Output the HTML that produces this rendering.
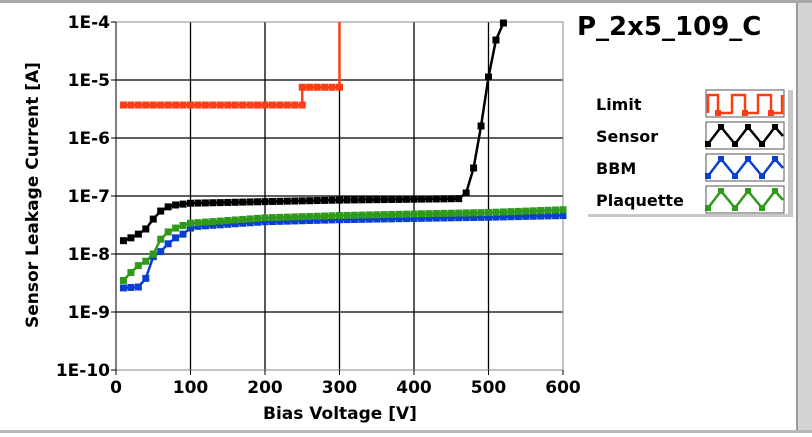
<!DOCTYPE html>
<html><head><meta charset="utf-8"><style>
body{margin:0;width:812px;height:433px;background:#fff;overflow:hidden;font-family:"DejaVu Sans",sans-serif;}
</style></head><body>
<svg id="s" width="812" height="433" xmlns="http://www.w3.org/2000/svg" font-family="DejaVu Sans, Liberation Sans, sans-serif" font-weight="bold">
<rect x="0" y="0" width="812" height="3" fill="#a8a8a8"/>
<rect x="0" y="430" width="812" height="3" fill="#b8b8b8"/>
<rect x="798" y="3" width="14" height="427" fill="#d4d4d4"/>
<rect x="796" y="3" width="2" height="427" fill="#9a9a9a"/>
<g id="grid"></g>
<g id="data"></g>
<text x="577" y="35" font-size="26" fill="#000">P_2x5_109_C</text>
<rect x="588" y="90" width="205" height="127" fill="#c8c8c8"/>
<rect x="585" y="87" width="203" height="127" fill="#fff"/>
<g font-size="16" fill="#000">
<text x="596" y="110">Limit</text>
<text x="596" y="142">Sensor</text>
<text x="596" y="174">BBM</text>
<text x="596" y="206">Plaquette</text>
</g>
<g id="leg"></g>
<text x="340" y="419" font-size="17" text-anchor="middle">Bias Voltage [V]</text>
<text transform="translate(38,195) rotate(-90)" font-size="17" text-anchor="middle">Sensor Leakage Current [A]</text>
</svg>
<script>
const NS="http://www.w3.org/2000/svg";
const X=v=>116+v*0.745, Y=l=>22+(-4-l)*58;
function el(p,t,a){const e=document.createElementNS(NS,t);for(const k in a)e.setAttribute(k,a[k]);p.appendChild(e);return e;}
const g=document.getElementById('grid');
for(let v=100;v<=500;v+=100)el(g,'line',{x1:X(v),x2:X(v),y1:22,y2:370,stroke:'#000','stroke-width':1.3});
for(let i=1;i<=5;i++)el(g,'line',{x1:X(0),x2:X(600),y1:22+i*58,y2:22+i*58,stroke:'#000','stroke-width':1.3});
el(g,'rect',{x:X(0),y:22,width:X(600)-X(0),height:348,fill:'none',stroke:'#888','stroke-width':1});
el(g,'line',{x1:X(0),x2:X(0),y1:22,y2:370,stroke:'#000'});
const labs=["1E-4","1E-5","1E-6","1E-7","1E-8","1E-9","1E-10"];
labs.forEach((t,i)=>{el(g,'line',{x1:X(0)-5,x2:X(0),y1:22+i*58,y2:22+i*58,stroke:'#000'});const e=el(g,'text',{x:X(0)-6,y:22+i*58+6,'font-size':17,'text-anchor':'end'});e.textContent=t;});
for(let v=0;v<=600;v+=100){el(g,'line',{x1:X(v),x2:X(v),y1:370,y2:375,stroke:'#000'});const e=el(g,'text',{x:X(v),y:393,'font-size':17,'text-anchor':'middle'});e.textContent=v;}
function interp(pts,v){for(let i=0;i<pts.length-1;i++){if(v>=pts[i][0]&&v<=pts[i+1][0]){const t=(v-pts[i][0])/(pts[i+1][0]-pts[i][0]);return pts[i][1]+t*(pts[i+1][1]-pts[i][1]);}}return pts[pts.length-1][1];}
const L=Math.log10;
function series(pts,col,from,to){const P=[];for(let v=from;v<=to;v+=10){P.push([X(v),Y(interp(pts,v))]);}return P;}
function draw(P,col){const d=document.getElementById('data');el(d,'polyline',{points:P.map(p=>p.join(',')).join(' '),fill:'none',stroke:col,'stroke-width':2.5});P.forEach(p=>el(d,'rect',{x:p[0]-3.5,y:p[1]-3.5,width:7,height:7,fill:col}));}
const bbm=[[10,2.6e-9],[30,2.7e-9],[40,3.8e-9],[50,9e-9],[60,1.1e-8],[70,1.5e-8],[80,1.9e-8],[90,2.2e-8],[100,2.8e-8],[110,3e-8],[200,3.6e-8],[300,3.9e-8],[400,4.1e-8],[500,4.3e-8],[600,4.6e-8]].map(p=>[p[0],L(p[1])]);
const pl=[[10,3.5e-9],[20,4.8e-9],[30,6.3e-9],[40,7.5e-9],[50,1e-8],[60,1.8e-8],[70,2.4e-8],[80,2.8e-8],[90,3.1e-8],[100,3.4e-8],[200,4.2e-8],[300,4.6e-8],[400,4.9e-8],[500,5.2e-8],[600,5.8e-8]].map(p=>[p[0],L(p[1])]);
const se=[[10,1.7e-8],[20,1.9e-8],[30,2.2e-8],[40,2.7e-8],[50,4e-8],[60,5.5e-8],[70,6.5e-8],[80,7e-8],[100,7.5e-8],[200,8e-8],[300,8.5e-8],[400,8.8e-8],[460,9e-8]].map(p=>[p[0],L(p[1])]);
draw(series(bbm,'#0a3fd0',10,600),'#0a3fd0');
draw(series(pl,'#2f9a1a',10,600),'#2f9a1a');
const S=series(se,'#000',10,460);S.push([X(470),193],[X(480),168],[X(490),126],[X(500),77],[X(510),40],[X(520),23]);
draw(S,'#000');
const lim=[];for(let v=10;v<=250;v+=10)lim.push([X(v),Y(L(3.7e-6))]);lim.push([X(250),Y(L(7.5e-6))]);for(let v=260;v<=300;v+=10)lim.push([X(v),Y(L(7.5e-6))]);
draw(lim,'#ff3c14');el(document.getElementById('data'),'line',{x1:X(300),x2:X(300),y1:Y(L(7.5e-6)),y2:22,stroke:'#ff3c14','stroke-width':2.5});
const lg=document.getElementById('leg');
const cols=['#ff3c14','#000','#0a3fd0','#2f9a1a'];
cols.forEach((c,i)=>{const y0=90+i*32;el(lg,'rect',{x:706,y:y0,width:78,height:27,fill:'#fff',stroke:'#555'});let pts;
if(i==0){pts=[[708,y0+23],[708,y0+5],[718,y0+5],[718,y0+23],[732,y0+23],[732,y0+5],[745,y0+5],[745,y0+23],[758,y0+23],[758,y0+5],[771,y0+5],[771,y0+23],[782,y0+23],[782,y0+5]];}
else{pts=[[708,y0+22],[721,y0+5],[735,y0+22],[748,y0+5],[762,y0+22],[775,y0+5],[783,y0+14]];}
el(lg,'polyline',{points:pts.map(p=>p.join(',')).join(' '),fill:'none',stroke:c,'stroke-width':2.5});
(i==0?[[718,y0+23],[745,y0+23],[771,y0+23]]:pts.slice(0,6)).forEach(p=>el(lg,'rect',{x:p[0]-3,y:p[1]-3,width:6,height:6,fill:c}));});
</script>
</body></html>
